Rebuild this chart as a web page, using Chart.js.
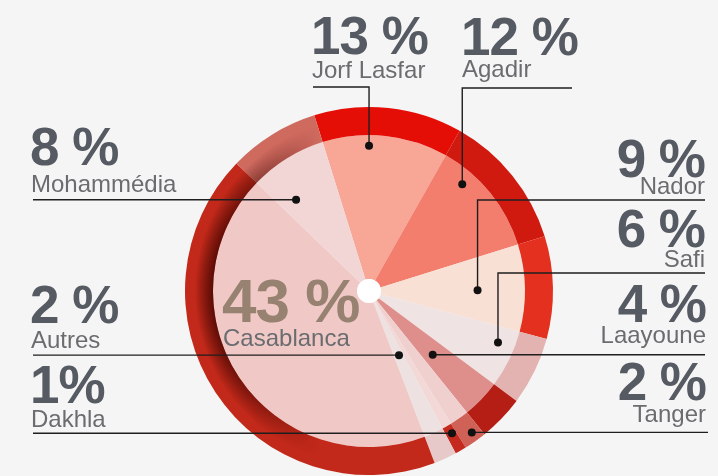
<!DOCTYPE html>
<html>
<head>
<meta charset="utf-8">
<script src="https://cdn.jsdelivr.net/npm/chart.js@4.4.0/dist/chart.umd.min.js"></script>
<style>
  html, body { margin: 0; padding: 0; background: #f5f5f5; }
  canvas { display: block; }
</style>
</head>
<body>
<canvas id="myChart" width="718" height="476"></canvas>
<script>
// données (sens horaire à partir de Jorf Lasfar)
const villes = ["Jorf Lasfar", "Agadir", "Nador", "Safi", "Laayoune", "Tanger", "Dakhla", "Autres", "Casablanca", "Mohammédia"];
const parts = [13, 12, 9, 6, 4, 2, 1, 2, 43, 8];
const partLabels = ["13 %", "12 %", "9 %", "6 %", "4 %", "2 %", "1%", "2 %", "43 %", "8 %"];

const couleursPie = ["#f8a696", "#f47e6d", "#f9e0d4", "#f0e3e3", "#de8f8b", "#f0d0ce", "#f2d8d7", "#eee1e1", "#f0c9c6", "#f2d6d5"];
const couleursAnneau = ["#e50e07", "#d01a10", "#e3301f", "#e2b3b0", "#b51e14", "#cf6156", "#c42a1e", "#e6c9c8", "#c2291a", "#cf6a5f"];

const PCT_COLOR = "#565a62";
const NAME_COLOR = "#6a6c70";
const FONT = "'Liberation Sans', Arial, sans-serif";

// position des étiquettes et des traits de rappel
const layout = [
  { x: 311, align: "left",  pctY: 54,  nameY: 78,  frac: 0.37, rf: 0.79, route: "up",  turn: 87,  end: 313 },
  { x: 461, align: "left",  pctY: 55,  nameY: 77,  frac: 0.27, rf: 0.77, route: "up",  turn: 88,  end: 572 },
  { x: 705, align: "right", pctY: 177, nameY: 194, frac: 0.52, rf: 0.59, route: "up",  turn: 200, end: 705 },
  { x: 705, align: "right", pctY: 247, nameY: 267, frac: 0.31, rf: 0.755, route: "up", turn: 273, end: 705 },
  { x: 706, align: "right", pctY: 322, nameY: 343, frac: 0.58, rf: 0.49, route: "h",   end: 705 },
  { x: 706, align: "right", pctY: 400, nameY: 422, frac: 0.40, rf: 0.95, route: "h",   end: 708 },
  { x: 30,  align: "left",  pctY: 403, nameY: 427, frac: 0.40, rf: 0.895, route: "h",  end: 33 },
  { x: 30,  align: "left",  pctY: 323, nameY: 348, frac: 0.42, rf: 0.385, route: "h",  end: 33 },
  { x: 222, align: "left",  pctY: 322, nameY: 346, center: true },
  { x: 30,  align: "left",  pctY: 165, nameY: 192, frac: 0.26, rf: 0.635, route: "h",  end: 33 },
];

const ringShadow = {
  id: "ringShadow",
  afterDatasetsDraw(chart) {
    const arc = chart.getDatasetMeta(0).data[0];
    const { x, y, innerRadius, outerRadius } = arc.getProps(["x", "y", "innerRadius", "outerRadius"], true);
    const off = document.createElement("canvas");
    off.width = chart.width;
    off.height = chart.height;
    const o = off.getContext("2d");
    const rg = o.createRadialGradient(x, y, innerRadius, x, y, innerRadius + 18);
    rg.addColorStop(0, "rgba(55,3,0,0.95)");
    rg.addColorStop(1, "rgba(55,3,0,0)");
    o.fillStyle = rg;
    o.beginPath();
    o.arc(x, y, outerRadius, 0, Math.PI * 2);
    o.arc(x, y, innerRadius, 0, Math.PI * 2, true);
    o.fill();
    o.globalCompositeOperation = "destination-in";
    const lg = o.createLinearGradient(x - outerRadius, 0, x - 50, 0);
    lg.addColorStop(0, "rgba(0,0,0,1)");
    lg.addColorStop(1, "rgba(0,0,0,0)");
    o.fillStyle = lg;
    o.fillRect(0, 0, off.width, off.height);
    chart.ctx.drawImage(off, 0, 0);
  },
};

const etiquettes = {
  id: "etiquettes",
  afterDraw(chart) {
    const ctx = chart.ctx;
    const pie = chart.getDatasetMeta(1).data;
    const ring = chart.getDatasetMeta(0).data[0];
    const cx = ring.x, cy = ring.y, R = ring.outerRadius;

    // trou blanc au centre
    ctx.save();
    ctx.fillStyle = "#ffffff";
    ctx.beginPath();
    ctx.arc(cx, cy, pie[0].innerRadius, 0, Math.PI * 2);
    ctx.fill();
    ctx.restore();

    layout.forEach((l, i) => {
      ctx.save();
      // textes
      ctx.textAlign = l.align;
      ctx.textBaseline = "alphabetic";
      ctx.letterSpacing = "-1px";
      ctx.font = (l.center ? "bold 62px " : "bold 53px ") + FONT;
      ctx.fillStyle = l.center ? "#978170" : PCT_COLOR;
      ctx.fillText(partLabels[i], l.x, l.pctY);
      ctx.letterSpacing = "0px";
      ctx.font = "24px " + FONT;
      ctx.fillStyle = NAME_COLOR;
      ctx.fillText(villes[i], l.x + (l.align === "left" ? 1 : 0), l.nameY);

      if (!l.center) {
        const a = pie[i];
        const ang = a.startAngle + l.frac * (a.endAngle - a.startAngle);
        const px = cx + Math.cos(ang) * R * l.rf;
        const py = cy + Math.sin(ang) * R * l.rf;
        ctx.strokeStyle = "#1e1e1e";
        ctx.lineWidth = 1.4;
        ctx.beginPath();
        ctx.moveTo(px, py);
        if (l.route === "up") {
          ctx.lineTo(px, l.turn);
          ctx.lineTo(l.end, l.turn);
        } else {
          ctx.lineTo(l.end, py);
        }
        ctx.stroke();
        ctx.fillStyle = "#111111";
        ctx.beginPath();
        ctx.arc(px, py, 4, 0, Math.PI * 2);
        ctx.fill();
      }
      ctx.restore();
    });
  },
};

const ctx = document.getElementById("myChart").getContext("2d");
const myChart = new Chart(ctx, {
  type: "doughnut",
  data: {
    labels: villes,
    datasets: [
      {
        label: "anneau",
        data: parts,
        backgroundColor: couleursAnneau,
        borderWidth: 0,
        hoverOffset: 0,
        weight: 28,
      },
      {
        label: "parts",
        data: parts,
        backgroundColor: couleursPie,
        borderWidth: 0,
        hoverOffset: 0,
        weight: 144,
      },
    ],
  },
  options: {
    responsive: false,
    animation: false,
    events: [],
    devicePixelRatio: 1,
    rotation: -17.3,
    cutout: 12,
    layout: { padding: { top: 107, bottom: 1, left: 20, right: 0 } },
    plugins: {
      legend: { display: false },
      tooltip: { enabled: false },
    },
  },
  plugins: [ringShadow, etiquettes],
});
</script>
</body>
</html>
